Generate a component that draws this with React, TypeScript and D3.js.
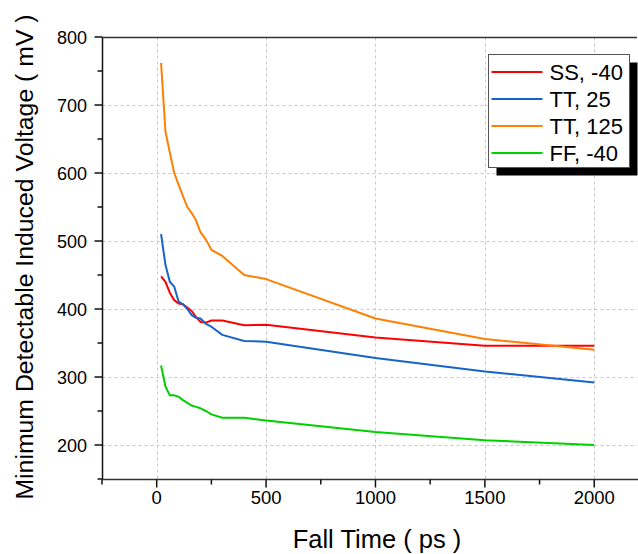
import React from "react";
import * as d3 from "d3";

const fallTimes = [20, 40, 60, 80, 100, 120, 140, 160, 180, 200, 225, 250, 300, 400, 500, 1000, 1500, 2000];
const ssMinus40 = [448, 440, 424, 413, 408, 407, 402, 397, 388, 381, 380, 383, 383, 376, 377, 358, 346, 346];
const tt25 = [510, 465, 440, 433, 411, 407, 400, 391, 387, 386, 378, 374, 362, 353, 352, 328, 308, 292];
const tt125 = [762, 661, 630, 600, 583, 566, 550, 541, 530, 513, 502, 487, 478, 450, 444, 386, 356, 340];
const ffMinus40 = [317, 286, 273, 273, 271, 266, 262, 258, 256, 254, 250, 245, 240, 240, 236, 219, 207, 200];

const seriesNames = ["SS, -40", "TT, 25", "TT, 125", "FF, -40"];
const seriesColors = ["#ff0000", "#1764c8", "#ff8000", "#00d000"];
const seriesValues = [ssMinus40, tt25, tt125, ffMinus40];

const xMajorTicks = [0, 500, 1000, 1500, 2000];
const xMinorTicks = [-250, 250, 750, 1250, 1750];
const yMajorTicks = [200, 300, 400, 500, 600, 700, 800];
const yMinorTicks = [150, 250, 350, 450, 550, 650, 750];

const W = 638;
const H = 554;
const FONT = "'Liberation Sans', Arial, sans-serif";

export default function App() {
  const x = d3.scaleLinear().domain([-250, 2200]).range([102, 638]);
  const y = d3.scaleLinear().domain([150, 800]).range([479, 37]);
  const left = 102.5;
  const right = 637;
  const top = 37.5;
  const bottom = 479.5;

  const line = d3
    .line<number>()
    .x((_, i) => x(fallTimes[i]))
    .y((d) => y(d));

  const legX = 488.5;
  const legY = 54.5;
  const legW = 141;
  const legH = 113;
  const rowH = 27;

  return (
    <svg
      width={W}
      height={H}
      style={{ position: "absolute", left: 0, top: 0, background: "#fff" }}
      fontFamily={FONT}
    >
      <rect x={0} y={0} width={W} height={H} fill="#fff" />
      {/* grid */}
      {yMajorTicks
        .filter((t) => t < 800)
        .map((t) => (
          <line
            key={"gy" + t}
            x1={left}
            x2={right}
            y1={Math.round(y(t)) + 0.5}
            y2={Math.round(y(t)) + 0.5}
            stroke="#c8c8c8"
            strokeDasharray="3,3"
          />
        ))}
      {xMajorTicks.map((t) => (
        <line
          key={"gx" + t}
          x1={Math.round(x(t)) + 0.5}
          x2={Math.round(x(t)) + 0.5}
          y1={top}
          y2={bottom}
          stroke="#c8c8c8"
          strokeDasharray="3,3"
        />
      ))}
      {/* series */}
      {seriesValues.map((vals, i) => (
        <path
          key={seriesNames[i]}
          d={line(vals) || ""}
          fill="none"
          stroke={seriesColors[i]}
          strokeWidth={2}
          strokeLinejoin="round"
        />
      ))}
      {/* axes */}
      <line x1={left} x2={right} y1={top} y2={top} stroke="#333" strokeWidth={1.5} />
      <line x1={left} x2={left} y1={top} y2={bottom} stroke="#111" strokeWidth={1.5} />
      <line x1={left} x2={W} y1={bottom} y2={bottom} stroke="#333" strokeWidth={1.5} />
      {xMajorTicks.map((t) => (
        <g key={"xt" + t}>
          <line x1={x(t)} x2={x(t)} y1={bottom} y2={bottom + 8} stroke="#111" strokeWidth={1.5} />
          <text x={x(t)} y={504} fontSize={18.5} textAnchor="middle" fill="#000">
            {t}
          </text>
        </g>
      ))}
      {xMinorTicks.map((t) => (
        <line key={"xm" + t} x1={x(t)} x2={x(t)} y1={bottom} y2={bottom + 5} stroke="#111" strokeWidth={1.5} />
      ))}
      {yMajorTicks.map((t) => (
        <g key={"yt" + t}>
          <line x1={left - 8} x2={left} y1={y(t)} y2={y(t)} stroke="#111" strokeWidth={1.5} />
          <text x={87} y={y(t) + 6.5} fontSize={18} textAnchor="end" fill="#000">
            {t}
          </text>
        </g>
      ))}
      {yMinorTicks.map((t) => (
        <line key={"ym" + t} x1={left - 5} x2={left} y1={y(t)} y2={y(t)} stroke="#111" strokeWidth={1.5} />
      ))}
      {/* titles */}
      <text x={377} y={548} fontSize={25.5} textAnchor="middle" fill="#000">
        Fall Time ( ps )
      </text>
      <text
        transform={`translate(33, 257) rotate(-90)`}
        fontSize={24.8}
        textAnchor="middle"
        fill="#000"
      >
        Minimum Detectable Induced Voltage ( mV )
      </text>
      {/* legend */}
      <rect x={legX + 8} y={legY + 8} width={legW} height={legH} fill="#000" />
      <rect x={legX} y={legY} width={legW} height={legH} fill="#fff" stroke="#555" strokeWidth={1} />
      {seriesNames.map((name, i) => {
        const cy = legY + 17.5 + i * rowH;
        return (
          <g key={"leg" + name}>
            <line x1={legX + 3} x2={legX + 54} y1={cy} y2={cy} stroke={seriesColors[i]} strokeWidth={2} />
            <text x={legX + 61} y={cy + 7.5} fontSize={22} fill="#000">
              {name}
            </text>
          </g>
        );
      })}
    </svg>
  );
}
